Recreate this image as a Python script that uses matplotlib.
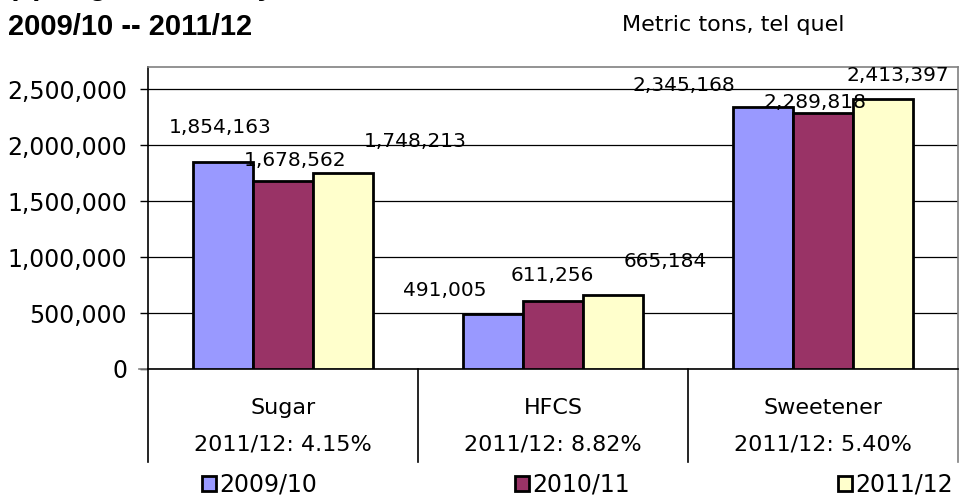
import matplotlib

matplotlib.use("Agg")
import matplotlib.pyplot as plt
import numpy as np
from matplotlib.ticker import FuncFormatter

FIGSIZE = (9.63, 5.0)
DPI = 100

categories = ["Sugar", "HFCS", "Sweetener"]
seasons = ["2009/10", "2010/11", "2011/12"]
values = {
    "2009/10": [1854163, 491005, 2345168],
    "2010/11": [1678562, 611256, 2289818],
    "2011/12": [1748213, 665184, 2413397],
}
growth_labels = ["2011/12: 4.15%", "2011/12: 8.82%", "2011/12: 5.40%"]
title_lines = ["(a) Sugar Inventory,", "2009/10 -- 2011/12"]
unit_note = "Metric tons, tel quel"

colors = ["#9999ff", "#993366", "#ffffcc"]
# label offsets in pixels from bar top (dx, dy), as Excel placed them
label_offsets = [
    [(-3, 34), (-48, 24), (-79, 21)],
    [(12, 21), (-1, 25), (-8, 10)],
    [(72, 32), (52, 33), (15, 24)],
]
legend_x = [202, 515, 838]

FONT = "DejaVu Sans"


def px_to_pt(px):
    return px * 72 / DPI


def draw_chart():
    fig = plt.figure(figsize=FIGSIZE, dpi=DPI)
    W, H = 963, 500
    left, right, top, bottom = 148, 958, 67, 369
    ax = fig.add_axes([left / W, 1 - bottom / H, (right - left) / W, (bottom - top) / H])

    x = np.arange(len(categories))
    width = 60 / 270
    bars = []
    for i, season in enumerate(seasons):
        b = ax.bar(
            x + (i - 1) * width,
            values[season],
            width,
            color=colors[i],
            edgecolor="black",
            linewidth=2,
            label=season,
            zorder=3,
        )
        bars.append(b)
        for j, rect in enumerate(b):
            dx, dy = label_offsets[i][j]
            ax.annotate(
                f"{values[season][j]:,}",
                (rect.get_x() + rect.get_width() / 2, rect.get_height()),
                xytext=(px_to_pt(dx), px_to_pt(dy)),
                textcoords="offset points",
                ha="center",
                va="center",
                fontsize=14.5,
                family=FONT,
                zorder=5,
            )

    ax.set_xlim(-0.5, 2.5)
    ax.set_ylim(0, 2700000)
    ax.set_yticks(np.arange(0, 2500001, 500000))
    ax.yaxis.set_major_formatter(FuncFormatter(lambda v, _: f"{int(v):,}"))
    ax.tick_params(axis="y", direction="out", length=6, width=1, labelsize=17, pad=9)
    for lab in ax.get_yticklabels():
        lab.set_family(FONT)
    ax.set_xticks([])
    ax.grid(axis="y", color="black", linewidth=0.9, zorder=0)

    ax.spines["top"].set_color("#808080")
    ax.spines["right"].set_color("#808080")
    ax.spines["left"].set_color("black")
    ax.spines["bottom"].set_color("black")
    for s in ax.spines.values():
        s.set_linewidth(1.2)

    # category table below the axis
    depth = -(462 - bottom) / (bottom - top)
    trans = ax.get_xaxis_transform()
    for xv, c in [(-0.5, "black"), (0.5, "black"), (1.5, "black"), (2.5, "#808080")]:
        ax.plot([xv, xv], [0, depth], transform=trans, color=c, lw=1.2, clip_on=False)
    # zero line reaching to the tick
    ax.plot([-0.5 - 9 / 270, -0.5], [0, 0], transform=trans, color="#808080", lw=1.2, clip_on=False)

    y_cat = -(408 - bottom) / (bottom - top)
    y_growth = -(445 - bottom) / (bottom - top)
    for i, cat in enumerate(categories):
        ax.text(i, y_cat, cat, transform=trans, ha="center", va="center", fontsize=16, family=FONT)
        ax.text(i, y_growth, growth_labels[i], transform=trans, ha="center", va="center",
                fontsize=16, family=FONT)

    # legend entries placed like the original
    for i, b in enumerate(bars):
        fig.legend(
            handles=[b.patches[0]],
            labels=[seasons[i]],
            loc="center left",
            bbox_to_anchor=(legend_x[i] / W, 1 - 485 / H),
            frameon=False,
            prop={"family": FONT, "size": 17},
            handlelength=0.6,
            handleheight=0.6,
            handletextpad=0.15,
            borderpad=0,
            borderaxespad=0,
        )

    fig.text(8 / W, 1 + 5 / H, title_lines[0], ha="left", va="baseline",
             fontsize=21, fontweight="bold", family="Liberation Sans")
    fig.text(8 / W, 1 - 35 / H, title_lines[1], ha="left", va="baseline",
             fontsize=21, fontweight="bold", family="Liberation Sans")
    fig.text(622 / W, 1 - 31 / H, unit_note, ha="left", va="baseline",
             fontsize=16, family=FONT)

    fig.savefig("out.png", dpi=DPI)


if __name__ == "__main__":
    draw_chart()
